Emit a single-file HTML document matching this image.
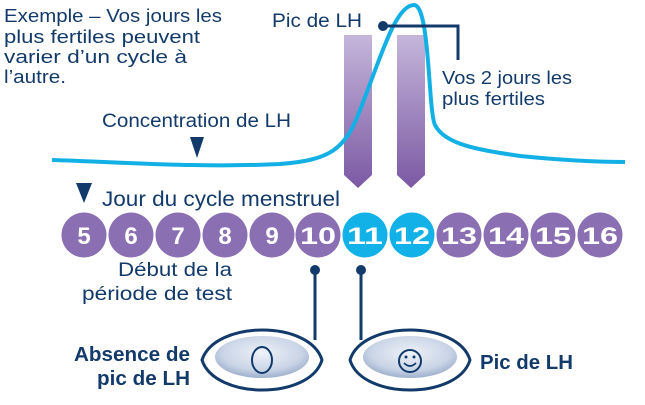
<!DOCTYPE html>
<html><head><meta charset="utf-8"><style>
body{margin:0;background:#fff;width:645px;height:400px;overflow:hidden;font-family:"Liberation Sans",sans-serif}
</style></head><body>
<svg width="645" height="400" viewBox="0 0 645 400" xmlns="http://www.w3.org/2000/svg" font-family="Liberation Sans, sans-serif">
<defs>
<linearGradient id="bar" x1="0" y1="0" x2="0" y2="1"><stop offset="0" stop-color="#c5b6da"/><stop offset="1" stop-color="#7b59a4"/></linearGradient>
<radialGradient id="ov" cx="0.5" cy="0.4" r="0.6"><stop offset="0" stop-color="#eef2f8"/><stop offset="0.7" stop-color="#c9d4e6"/><stop offset="1" stop-color="#9fb0cc"/></radialGradient>
</defs>
<g fill="#123a6b" font-size="18" lengthAdjust="spacingAndGlyphs">
<text x="4" y="22" textLength="218" lengthAdjust="spacingAndGlyphs">Exemple – Vos jours les</text>
<text x="4" y="43" textLength="196" lengthAdjust="spacingAndGlyphs">plus fertiles peuvent</text>
<text x="4" y="63" textLength="183" lengthAdjust="spacingAndGlyphs">varier d’un cycle à</text>
<text x="4" y="83" textLength="62" lengthAdjust="spacingAndGlyphs">l’autre.</text>
<text x="102" y="127" font-size="19" textLength="189" lengthAdjust="spacingAndGlyphs">Concentration de LH</text>
<text x="272" y="27" font-size="19" textLength="90" lengthAdjust="spacingAndGlyphs">Pic de LH</text>
<text x="442" y="84" font-size="18.5" textLength="130" lengthAdjust="spacingAndGlyphs">Vos 2 jours les</text>
<text x="442" y="105" font-size="18.5" textLength="103" lengthAdjust="spacingAndGlyphs">plus fertiles</text>
<text x="102" y="206" font-size="21" textLength="238" lengthAdjust="spacingAndGlyphs">Jour du cycle menstruel</text>
<text x="118" y="276" font-size="19.5" textLength="114" lengthAdjust="spacingAndGlyphs">Début de la</text>
<text x="82" y="300" font-size="19.5" textLength="150" lengthAdjust="spacingAndGlyphs">période de test</text>
</g>
<path d="M344 35h28v140l-14 13l-14-13z" fill="url(#bar)"/>
<path d="M397 35h28v140l-14 13l-14-13z" fill="url(#bar)"/>
<path d="M52 160 C120 162 200 168 280 164 C330 160 345 150 360 110 C380 60 395 5 414 5 C430 5 428 110 435 125 C445 145 480 150 520 156 C560 160 600 162 625 162" fill="none" stroke="#13b0e6" stroke-width="4"/>
<polygon points="190,137 204,137 197,158" fill="#123a6b"/>
<polygon points="76,183 92,183 84,203" fill="#123a6b"/>
<circle cx="383" cy="26" r="5" fill="#123a6b"/>
<path d="M383 26H458V60" fill="none" stroke="#123a6b" stroke-width="3"/>
<g font-size="24" font-weight="bold" fill="#fff" text-anchor="middle">
<circle cx="84" cy="235" r="22.5" fill="#8a70b3"/><text x="84" y="244">5</text>
<circle cx="131" cy="235" r="22.5" fill="#8a70b3"/><text x="131" y="244">6</text>
<circle cx="178" cy="235" r="22.5" fill="#8a70b3"/><text x="178" y="244">7</text>
<circle cx="225" cy="235" r="22.5" fill="#8a70b3"/><text x="225" y="244">8</text>
<circle cx="272" cy="235" r="22.5" fill="#8a70b3"/><text x="272" y="244">9</text>
<circle cx="318" cy="235" r="22.5" fill="#8a70b3"/><text x="318" y="244" textLength="36" lengthAdjust="spacingAndGlyphs">10</text>
<circle cx="365" cy="235" r="22.5" fill="#12b1e8"/><text x="365" y="244" textLength="36" lengthAdjust="spacingAndGlyphs">11</text>
<circle cx="412" cy="235" r="22.5" fill="#12b1e8"/><text x="412" y="244" textLength="36" lengthAdjust="spacingAndGlyphs">12</text>
<circle cx="459" cy="235" r="22.5" fill="#8a70b3"/><text x="459" y="244" textLength="36" lengthAdjust="spacingAndGlyphs">13</text>
<circle cx="506" cy="235" r="22.5" fill="#8a70b3"/><text x="506" y="244" textLength="36" lengthAdjust="spacingAndGlyphs">14</text>
<circle cx="553" cy="235" r="22.5" fill="#8a70b3"/><text x="553" y="244" textLength="36" lengthAdjust="spacingAndGlyphs">15</text>
<circle cx="600" cy="235" r="22.5" fill="#8a70b3"/><text x="600" y="244" textLength="36" lengthAdjust="spacingAndGlyphs">16</text>
</g>
<circle cx="315" cy="270" r="5" fill="#123a6b"/><line x1="315" y1="270" x2="315" y2="340" stroke="#123a6b" stroke-width="3"/>
<circle cx="361" cy="270" r="5" fill="#123a6b"/><line x1="361" y1="270" x2="361" y2="340" stroke="#123a6b" stroke-width="3"/>
<path d="M202 360 C215 320 310 320 322 360 C310 400 215 400 202 360Z" fill="#fff" stroke="#123a6b" stroke-width="3"/>
<ellipse cx="262" cy="357" rx="47" ry="21" fill="url(#ov)"/>
<ellipse cx="262" cy="360" rx="10" ry="13" fill="none" stroke="#123a6b" stroke-width="2"/>
<path d="M350 360 C362 320 458 320 470 360 C458 400 362 400 350 360Z" fill="#fff" stroke="#123a6b" stroke-width="3"/>
<ellipse cx="410" cy="357" rx="47" ry="21" fill="url(#ov)"/>
<circle cx="410" cy="361" r="11" fill="none" stroke="#123a6b" stroke-width="2"/>
<circle cx="406" cy="357" r="1.5" fill="#123a6b"/><circle cx="414" cy="357" r="1.5" fill="#123a6b"/>
<path d="M404 363 Q410 369 416 363" fill="none" stroke="#123a6b" stroke-width="1.6"/>
<g fill="#123a6b" font-size="20" font-weight="bold">
<text x="74" y="361" textLength="116" lengthAdjust="spacingAndGlyphs">Absence de</text>
<text x="97" y="385" textLength="93" lengthAdjust="spacingAndGlyphs">pic de LH</text>
<text x="480" y="369" textLength="93" lengthAdjust="spacingAndGlyphs">Pic de LH</text>
</g>
</svg>
</body></html>
